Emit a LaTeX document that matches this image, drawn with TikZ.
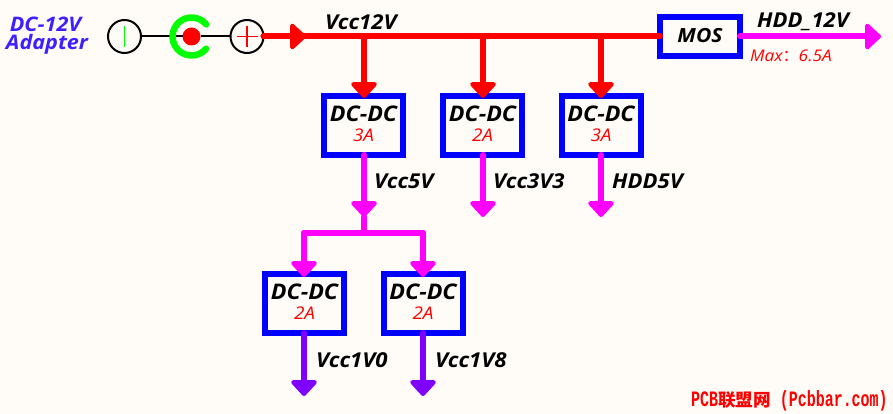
\documentclass[tikz,border=0pt]{standalone}
\usepackage{fontspec}
\usetikzlibrary{arrows.meta}
\setmainfont[FakeStretch=1.08]{Open Sans}
\newfontfamily\cjkfont{Noto Sans CJK SC}
\newfontfamily\monofont[FakeStretch=0.68]{Liberation Mono}
\definecolor{paper}{HTML}{FFFCF8}
\definecolor{railred}{HTML}{FF0000}
\definecolor{railpink}{HTML}{FF00FF}
\definecolor{railviolet}{HTML}{8000FF}
\definecolor{boxblue}{HTML}{0000FF}
\definecolor{titleblue}{HTML}{3D1FFF}
\definecolor{plugreen}{HTML}{00FF00}
\tikzset{
  x=1pt, y=-1pt,
  stagebox/.style={draw=boxblue, line width=6pt, fill=paper, minimum width=79pt, minimum height=59pt,
    inner sep=0pt, outer sep=0pt, align=center, text=black,
    font=\fontsize{21.5}{21.5}\selectfont\bfseries\itshape},
  mosbox/.style={stagebox, minimum width=80pt, minimum height=39pt, font=\fontsize{19.5}{19.5}\selectfont\bfseries\itshape},
  rail/.style={line width=6pt, line cap=round},
  railtip/.style={rail, -{Triangle[length=17pt,width=30pt,round]}},
  pole/.style={circle, draw=black, line width=2pt, minimum size=33pt, inner sep=0pt, outer sep=0pt, fill=paper},
  wire/.style={draw=black, line width=2pt},
  railname/.style={anchor=base west, inner sep=0pt, text=black, font=\fontsize{20.5}{20.5}\selectfont\bfseries\itshape},
  title/.style={anchor=base, inner sep=0pt, text=titleblue, font=\fontsize{20}{20}\selectfont\bfseries\itshape},
}
\newcommand{\ampere}[1]{\\[-2pt]{\fontsize{17.5}{17.5}\selectfont\mdseries\itshape\color{railred}#1}\rule[-4pt]{0pt}{0pt}}
\begin{document}
\begin{tikzpicture}
  \useasboundingbox[fill=paper] (0,0) rectangle (893,414);

  % Adapter label
  \node[title] (dctitle) at (45.5,32) {DC-12V};
  \node[title] (adtitle) at (47,50) {Adapter};

  % Barrel jack symbol
  \node[pole] (minus) at (124.5,36.5) {};
  \node[pole] (plus) at (247,36.5) {};
  \node[circle, fill=railred, minimum size=18pt, inner sep=0pt, outer sep=0pt] (jack) at (191.5,36.5) {};
  \draw[wire] (minus) -- (jack);
  \draw[wire] (jack) -- (plus);
  \draw[plugreen, line width=1.6pt] ([yshift=10.5pt]minus.center) -- ([yshift=-10.5pt]minus.center);
  \draw[railred, line width=1.6pt] ([yshift=10.5pt]plus.center) -- ([yshift=-10.5pt]plus.center);
  \draw[railred, line width=1.6pt] ([xshift=-10.5pt]plus.center) -- ([xshift=10.5pt]plus.center);
  \draw[plugreen, line width=6.5pt, line cap=round]
    ([shift={(14.6pt,12.2pt)}]jack.center) arc[start angle=40, end angle=320, radius=19pt];

  % Converter blocks
  \node[mosbox] (mos) at (700,36.5) {MOS\rule[-2pt]{0pt}{0pt}};
  \node[stagebox] (dca) at (363.5,125.5) {DC-DC\ampere{3A}};
  \node[stagebox] (dcb) at (482.5,125.5) {DC-DC\ampere{2A}};
  \node[stagebox] (dcc) at (601,125.5) {DC-DC\ampere{3A}};
  \node[stagebox] (dcd) at (304.5,303.5) {DC-DC\ampere{2A}};
  \node[stagebox] (dce) at (423,303.5) {DC-DC\ampere{2A}};

  % Junction and free-end points
  \coordinate (busmark) at (306,36.5);
  \coordinate (busa) at (364,36.5);
  \coordinate (busb) at (483,36.5);
  \coordinate (busc) at (601,36.5);
  \coordinate (hddend) at (881,36.5);
  \coordinate (fivemark) at (364,217);
  \coordinate (fivejoin) at (364,233);
  \coordinate (leftturn) at (304,233);
  \coordinate (rightturn) at (423,233);
  \coordinate (threeend) at (483,217);
  \coordinate (hddfiveend) at (601,217);
  \coordinate (oneend) at (304,396);
  \coordinate (oneeightend) at (423,396);

  % 12 V rail
  \draw[rail, railred] (plus.east) -- (mos.west);
  \draw[railtip, railred] (plus.east) -- (busmark);
  \draw[railtip, railred] (busa) -- ([yshift=-2pt]busa |- dca.north);
  \draw[railtip, railred] (busb) -- ([yshift=-2pt]busb |- dcb.north);
  \draw[railtip, railred] (busc) -- ([yshift=-2pt]busc |- dcc.north);

  % Switched output
  \draw[railtip, railpink] (mos.east) -- (hddend);

  % 5 V and 3.3 V branches
  \draw[railtip, railpink] (busa |- dca.south) -- (fivemark);
  \draw[rail, railpink] (fivemark) -- (fivejoin);
  \draw[rail, railpink] (leftturn) -- (rightturn);
  \draw[railtip, railpink] (leftturn) -- ([yshift=-3pt]leftturn |- dcd.north);
  \draw[railtip, railpink] (rightturn) -- ([yshift=-3pt]rightturn |- dce.north);
  \draw[railtip, railpink] (busb |- dcb.south) -- (threeend);
  \draw[railtip, railpink] (busc |- dcc.south) -- (hddfiveend);

  % Low-voltage outputs
  \draw[railtip, railviolet] (leftturn |- dcd.south) -- (oneend);
  \draw[railtip, railviolet] (rightturn |- dce.south) -- (oneeightend);

  % Rail names
  \node[railname] (n12) at (325,30) {Vcc12V};
  \node[railname] (nhdd) at (757,28) {HDD\_12V};
  \node[anchor=base west, inner sep=0pt, text=railred, font=\fontsize{16}{16}\selectfont\itshape] (nmax) at (750,62) {Max{\cjkfont ：}6.5A};
  \node[railname] (n5) at (374,189) {Vcc5V};
  \node[railname] (n33) at (493,189) {Vcc3V3};
  \node[railname] (nh5) at (612,189) {HDD5V};
  \node[railname] (n10) at (316,367) {Vcc1V0};
  \node[railname] (n18) at (435,367) {Vcc1V8};

  % Site mark
  \node[anchor=base west, inner sep=0pt, text=railred] (site) at (691,406.5)
    {\fontsize{22}{22}\monofont\bfseries PCB{\fontsize{17.6}{17.6}\cjkfont\bfseries 联盟网}\ (Pcbbar.com)};
\end{tikzpicture}
\end{document}
